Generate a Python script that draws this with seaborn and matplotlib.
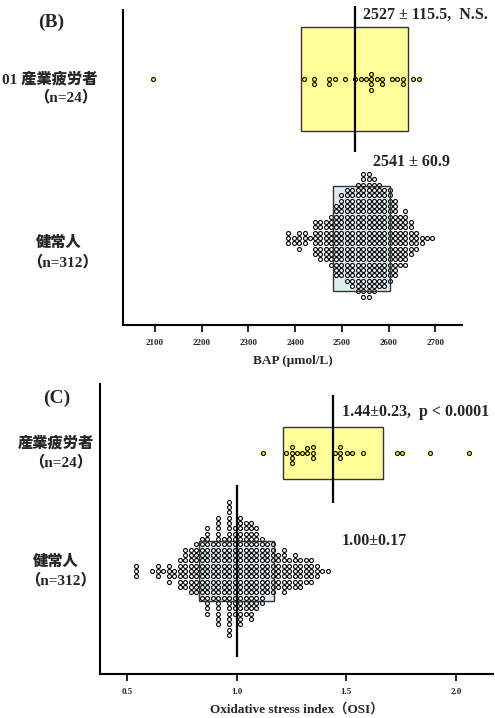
import numpy as np
import matplotlib
matplotlib.use("Agg")
import matplotlib.pyplot as plt
import seaborn as sns

# ---------------- data ----------------
# (B) BAP, μmol/L
bap_fatigue = [2096, 2418, 2441, 2441, 2473, 2473, 2485, 2507, 2528, 2540, 2552,
               2563, 2563, 2563, 2563, 2575, 2586, 2586, 2607, 2618, 2630, 2630,
               2652, 2664]
bap_healthy_bins = [2385, 2397, 2408, 2420, 2431, 2442, 2454, 2465, 2477, 2488,
                    2499, 2511, 2522, 2534, 2545, 2557, 2568, 2579, 2591, 2602,
                    2614, 2625, 2636, 2648, 2659, 2671, 2682, 2693]
bap_healthy_counts = [3, 2, 4, 3, 1, 7, 8, 8, 10, 14, 16, 18, 19, 21, 24, 24,
                      22, 20, 19, 18, 15, 10, 11, 7, 4, 2, 1, 1]
bap_fatigue_mean, bap_fatigue_sd = 2527, 115.5
bap_healthy_mean, bap_healthy_sd = 2541, 60.9

# (C) Oxidative stress index
osi_fatigue = [1.121, 1.225, 1.251, 1.251, 1.251, 1.251, 1.275, 1.299, 1.322,
               1.322, 1.347, 1.347, 1.347, 1.448, 1.474, 1.474, 1.474, 1.502,
               1.527, 1.579, 1.730, 1.755, 1.881, 2.059]
osi_healthy_bins = [0.541, 0.616, 0.641, 0.666, 0.691, 0.716, 0.741, 0.766,
                    0.791, 0.816, 0.841, 0.866, 0.891, 0.916, 0.941, 0.966,
                    0.991, 1.016, 1.041, 1.066, 1.091, 1.116, 1.141, 1.166,
                    1.191, 1.216, 1.241, 1.266, 1.291, 1.316, 1.341, 1.366,
                    1.391, 1.416]
osi_healthy_counts = [3, 1, 3, 1, 4, 2, 6, 8, 9, 10, 12, 17, 11, 21, 12, 26,
                      17, 21, 18, 19, 16, 13, 10, 10, 7, 9, 6, 7, 6, 5, 5, 3,
                      1, 1]
osi_fatigue_mean, osi_fatigue_sd = 1.44, 0.23
osi_healthy_mean, osi_healthy_sd = 1.00, 0.17

bap_ticks = [2100, 2200, 2300, 2400, 2500, 2600, 2700]
osi_ticks = [0.5, 1.0, 1.5, 2.0]

# ---------------- style ----------------
sns.set_style("ticks")
plt.rcParams["font.family"] = ["Liberation Serif", "Noto Sans CJK JP"]
plt.rcParams["font.weight"] = "bold"
plt.rcParams["axes.labelweight"] = "bold"

W, H = 495, 718
fig = plt.figure(figsize=(W / 100, H / 100), dpi=100)


def fxy(x, y):
    return x / W, 1 - y / H


YELLOW_BOX = "#FFFF99"
YELLOW_DOT = "#FFFF00"
BLUE_BOX = "#DCEEF4"
DOT_SIZE = 2.85
DOT_LW = 0.8


def draw_group(ax, values, pos, mean, sd, box_h, box_fill, dot_fill,
               line_span=None):
    ax.barh(pos, 2 * sd, left=mean - sd, height=box_h, color=box_fill,
            edgecolor="none", zorder=1)
    sns.swarmplot(x=values, y=np.full(len(values), pos, dtype=float),
                  orient="y", native_scale=True, ax=ax, color=dot_fill,
                  edgecolor="black", linewidth=DOT_LW, size=DOT_SIZE,
                  zorder=3, warn_thresh=1)
    ax.barh(pos, 2 * sd, left=mean - sd, height=box_h, fill=False,
            edgecolor="#333333", linewidth=1.0, zorder=4)
    if line_span is not None:
        ax.vlines(mean, pos + line_span[0], pos + line_span[1], color="black",
                  linewidth=1.6, zorder=5, clip_on=False)


def style_axes(ax, ticks, fmt):
    for s in ("top", "right"):
        ax.spines[s].set_visible(False)
    for s in ("left", "bottom"):
        ax.spines[s].set_linewidth(1.5)
        ax.spines[s].set_color("black")
    ax.set_yticks([])
    ax.set_ylabel("")
    ax.set_xticks(ticks)
    ax.set_xticklabels([fmt.format(t) for t in ticks])
    ax.tick_params(axis="x", direction="out", length=5, width=1.2,
                   labelsize=6.5, pad=5, color="black")


# ---------------- (B) BAP ----------------
axB = fig.add_axes([123 / W, 1 - 325 / H, 339 / W, 315 / H])
axB.set_xlim(2031.5, 2757)
axB.set_ylim(0.928, -0.260)
bap_healthy = np.repeat(bap_healthy_bins, bap_healthy_counts)
draw_group(axB, bap_fatigue, 0.0, bap_fatigue_mean, bap_fatigue_sd, 0.392,
           YELLOW_BOX, YELLOW_DOT, line_span=(-0.275, 0.275))
draw_group(axB, bap_healthy, 0.6, bap_healthy_mean, bap_healthy_sd, 0.396,
           BLUE_BOX, "white")
axB.set_xlim(2031.5, 2757)
axB.set_ylim(0.928, -0.260)
style_axes(axB, bap_ticks, "{:d}")
axB.set_xlabel("BAP (μmol/L)", fontsize=9.5, labelpad=6)

# ---------------- (C) OSI ----------------
axC = fig.add_axes([100 / W, 1 - 674 / H, 393 / W, 290 / H])
axC.set_xlim(0.377, 2.17)
axC.set_ylim(0.936, -0.291)
osi_healthy = np.repeat(osi_healthy_bins, osi_healthy_counts)
draw_group(axC, osi_fatigue, 0.0, osi_fatigue_mean, osi_fatigue_sd, 0.221,
           YELLOW_BOX, YELLOW_DOT, line_span=(-0.2445, 0.2136))
draw_group(axC, osi_healthy, 0.5, osi_healthy_mean, osi_healthy_sd, 0.2525,
           BLUE_BOX, "white", line_span=(-0.364, 0.364))
axC.set_xlim(0.377, 2.17)
axC.set_ylim(0.936, -0.291)
style_axes(axC, osi_ticks, "{:.1f}")
axC.set_xlabel("Oxidative stress index（OSI）", fontsize=9.5, labelpad=5)

# ---------------- text ----------------
fig.text(*fxy(51, 22), "(B)", fontsize=14, ha="center", va="center")
fig.text(*fxy(57, 398), "(C)", fontsize=14, ha="center", va="center")

lab_kw = dict(fontsize=11, va="center", fontweight="heavy")
fig.text(*fxy(97, 79), "01 産業疲労者", ha="right", **lab_kw)
fig.text(*fxy(66, 97), "（n=24）", ha="center", **lab_kw)
fig.text(*fxy(58.5, 243), "健常人", ha="center", **lab_kw)
fig.text(*fxy(62.5, 262), "（n=312）", ha="center", **lab_kw)
fig.text(*fxy(55.5, 443), "産業疲労者", ha="center", **lab_kw)
fig.text(*fxy(61, 462), "（n=24）", ha="center", **lab_kw)
fig.text(*fxy(56, 562), "健常人", ha="center", **lab_kw)
fig.text(*fxy(60, 580), "（n=312）", ha="center", **lab_kw)

ann_kw = dict(fontsize=11.5, va="center", ha="left")
fig.text(*fxy(363, 15), f"{bap_fatigue_mean} ± {bap_fatigue_sd},  N.S.", **ann_kw)
fig.text(*fxy(373, 162), f"{bap_healthy_mean} ± {bap_healthy_sd}", **ann_kw)
fig.text(*fxy(342, 412),
         f"{osi_fatigue_mean:.2f}±{osi_fatigue_sd:.2f},  p < 0.0001", **ann_kw)
fig.text(*fxy(342, 541), f"{osi_healthy_mean:.2f}±{osi_healthy_sd:.2f}", **ann_kw)

fig.savefig("out.png", dpi=100)
